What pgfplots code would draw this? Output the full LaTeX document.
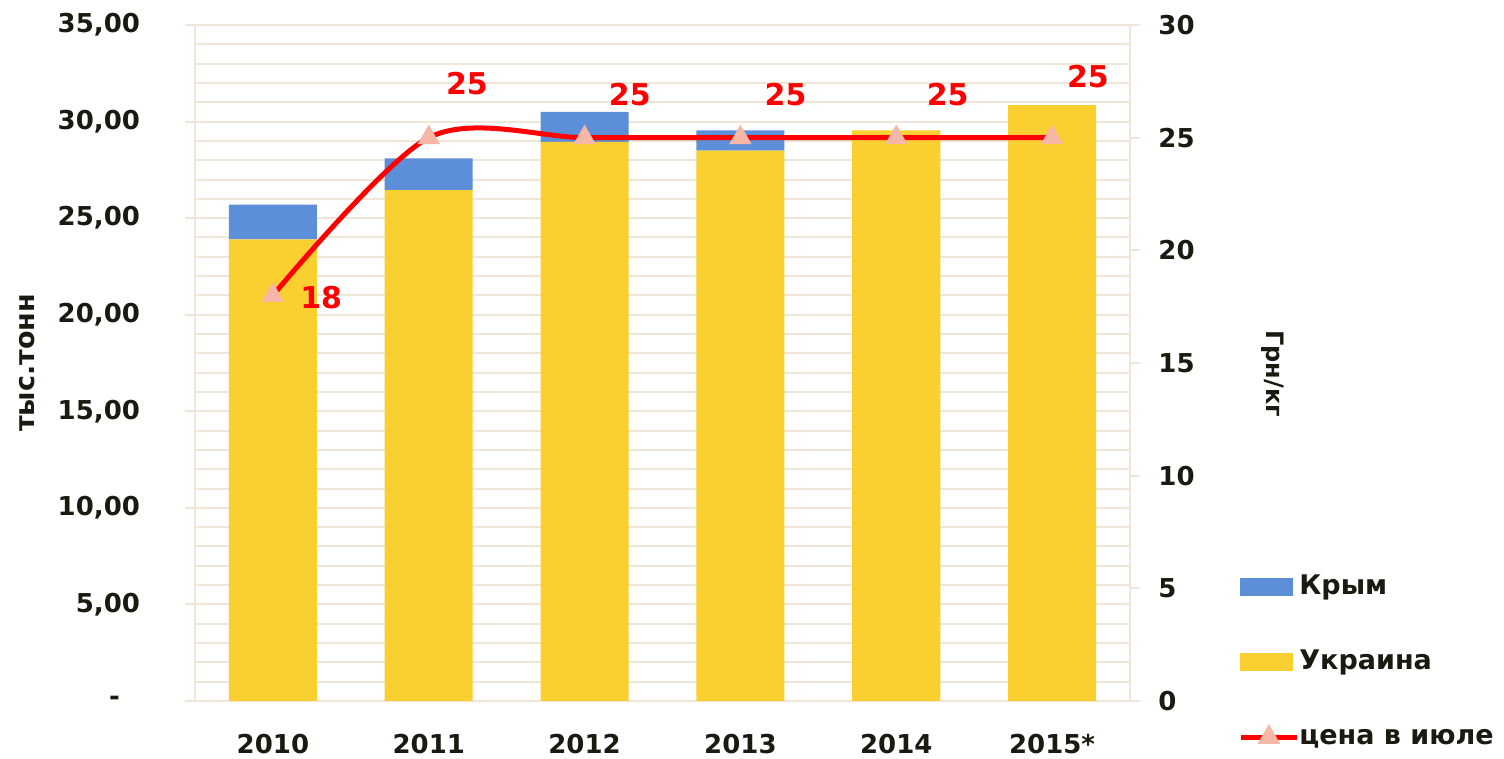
\documentclass[border=0pt]{standalone}
\usepackage{pgfplots}
\pgfplotsset{compat=1.18}
\usepackage{fontspec}
\setmainfont{DejaVu Sans}
\usetikzlibrary{calc}
\definecolor{ukr}{HTML}{FAD030}
\definecolor{cri}{HTML}{5D8ED8}
\definecolor{gridc}{HTML}{EFE6D8}
\definecolor{mk}{HTML}{F7B7A6}
\definecolor{txt}{HTML}{1A1A10}
\pgfplotsset{my line legend/.style={legend image code/.code={\draw[mark repeat=2, mark phase=2, ##1] plot coordinates {(0pt,0pt) (14pt,0pt) (28pt,0pt)};}}}
\begin{document}
\begin{tikzpicture}
\begin{axis}[
  width=467.5pt, height=338pt, scale only axis,
  xmin=-0.5, xmax=5.5, ymin=0, ymax=35,
  axis y line*=left, axis x line*=bottom,
  axis line style={gridc, line width=1pt, -},
  ytick={0,5,10,15,20,25,30,35},
  yticklabels={{-\rule{10pt}{0pt}},{5,00},{10,00},{15,00},{20,00},{25,00},{30,00},{35,00}},
  minor ytick={1,2,3,4,6,7,8,9,11,12,13,14,16,17,18,19,21,22,23,24,26,27,28,29,31,32,33,34},
  ymajorgrids, yminorgrids,
  major grid style={gridc, line width=1pt},
  minor grid style={gridc, line width=1pt},
  tick align=outside, major tick length=5pt, minor tick length=0pt,
  y tick style={gridc, line width=1pt},
  x tick style={draw=none},
  xtick={0,1,2,3,4,5},
  xticklabels={2010,2011,2012,2013,2014,2015*},
  ticklabel style={font=\bfseries\fontsize{13}{15}\selectfont, text=txt},
  yticklabel style={xshift=-19pt},
  xticklabel style={yshift=-8pt},
  ybar stacked, bar width=44pt,
  every axis y label/.style={at={(axis description cs:-0.18,0.5)}, rotate=90, anchor=center},
  ylabel={тыс.тонн},
  ylabel style={font=\bfseries\fontsize{13.5}{15}\selectfont, text=txt},
]
\addplot[fill=ukr, draw=none] coordinates {(0,23.9) (1,26.45) (2,28.95) (3,28.5) (4,29.55) (5,30.85)};
\addplot[fill=cri, draw=none] coordinates {(0,1.8) (1,1.65) (2,1.55) (3,1.05) (4,0) (5,0)};
\coordinate (bl) at (rel axis cs:0,0);
\coordinate (tr) at (rel axis cs:1,1);
\end{axis}
\begin{axis}[
  width=467.5pt, height=338pt, scale only axis,
  xmin=-0.5, xmax=5.5, ymin=0, ymax=30,
  axis x line=none, axis y line*=right,
  axis line style={gridc, line width=1pt, -},
  ytick={0,5,10,15,20,25,30},
  yticklabels={0,5,10,15,20,25,30},
  tick align=outside, major tick length=5pt,
  y tick style={gridc, line width=1pt},
  ticklabel style={font=\bfseries\fontsize{13}{15}\selectfont, text=txt},
  yticklabel style={xshift=5.7pt},
  every axis y label/.style={at={(axis description cs:1.153,0.484)}, rotate=-90, anchor=center},
  ylabel={Грн/кг},
  ylabel style={font=\bfseries\fontsize{12}{14}\selectfont, text=txt},
  legend cell align=left,
  legend style={draw=none, fill=none, inner sep=0pt,
    at={(axis description cs:1.1155,0.188)}, anchor=north west,
    font=\bfseries\fontsize{13.5}{16}\selectfont, text=txt,
    row sep=24.5pt,
    nodes={inner sep=0pt, text height=10pt, text depth=3pt},
    /tikz/every odd column/.append style={column sep=0pt}},
]
\addlegendimage{legend image code/.code={\fill[cri] (0pt,-4.25pt) rectangle (26pt,4.25pt);}}
\addlegendentry{Крым}
\addlegendimage{legend image code/.code={\fill[ukr] (0pt,-4.25pt) rectangle (26pt,4.25pt);}}
\addlegendentry{Украина}
\addplot[smooth, red, line width=2.5pt, mark=triangle*, mark size=6.2pt,
  mark options={fill=mk, draw=mk, line width=0.3pt, solid}, my line legend]
  coordinates {(0,18) (1,25) (2,25) (3,25) (4,25) (5,25)};
\addlegendentry{цена в июле}
\begin{scope}[every node/.style={text=red, font=\bfseries\fontsize{15}{17}\selectfont, anchor=center}]
\node at (axis cs:0.31,17.9) {18};
\node at (axis cs:1.245,27.4) {25};
\node at (axis cs:2.29,26.9) {25};
\node at (axis cs:3.29,26.9) {25};
\node at (axis cs:4.33,26.9) {25};
\node at (axis cs:5.23,27.7) {25};
\end{scope}
\end{axis}
\pgfresetboundingbox
\useasboundingbox ($(bl)+(-97.5pt,-29pt)$) rectangle ($(tr)+(187pt,12.5pt)$);
\end{tikzpicture}
\end{document}
